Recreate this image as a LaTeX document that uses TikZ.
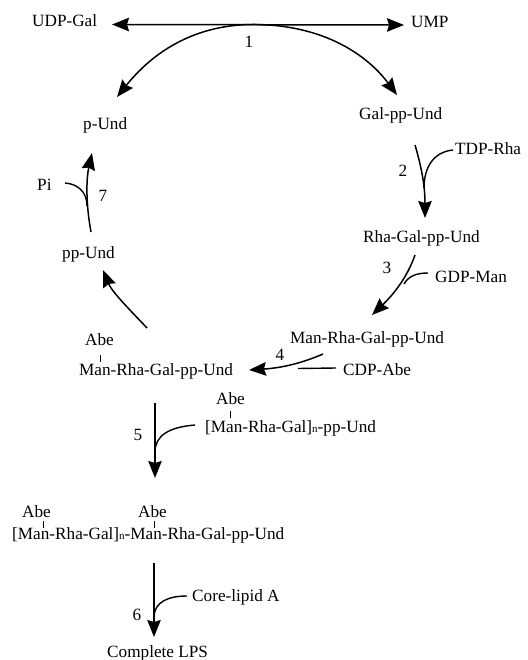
\documentclass[tikz,border=0pt]{standalone}
\usepackage{fontspec}
\setmainfont{Liberation Serif}
\usetikzlibrary{arrows.meta}
\newcommand{\smn}{{\fontsize{11}{12}\selectfont n}}
\tikzset{
  lbl/.style={inner sep=0pt, anchor=base west, font=\fontsize{17.2}{20}\selectfont},
  num/.style={inner sep=0pt, anchor=base, font=\fontsize{17.2}{20}\selectfont},
  tipshape/.style={},
  rxn/.style={line width=1.5pt, -{Stealth[length=17pt,width=13.5pt,inset=2pt]}},
  dbl/.style={line width=1.5pt, {Stealth[length=17pt,width=13.5pt,inset=2pt]}-{Stealth[length=17pt,width=13.5pt,inset=2pt]}},
  side/.style={line width=1.4pt},
  tickln/.style={line width=0.7pt}
}
\begin{document}
\begin{tikzpicture}[x=1pt,y=-1pt]
\useasboundingbox (0,0) rectangle (527,660);
% texts
\node[lbl] (udpgal) at (32,27) {UDP-Gal};
\node[lbl] (ump) at (411,28) {UMP};
\node[num] (n1) at (249,48) {1};
\node[lbl] (pund) at (83,130) {p-Und};
\node[lbl] (galpp) at (359,120) {Gal-pp-Und};
\node[lbl] (tdprha) at (455,155) {TDP-Rha};
\node[num] (n2) at (403,177) {2};
\node[lbl] (rhagal) at (363,242) {Rha-Gal-pp-Und};
\node[num] (n3) at (387,273) {3};
\node[lbl] (gdpman) at (435,282) {GDP-Man};
\node[lbl] (manrha) at (290,343) {Man-Rha-Gal-pp-Und};
\node[num] (n4) at (280,360) {4};
\node[lbl] (cdpabe) at (343,375) {CDP-Abe};
\node[lbl] (pi) at (37,190) {Pi};
\node[num] (n7) at (103,202) {7};
\node[lbl] (ppund) at (62,258) {pp-Und};
\node[lbl] (abea) at (85,345) {Abe};
\node[lbl] (abeman) at (79,375) {Man-Rha-Gal-pp-Und};
\node[lbl] (abeb) at (216,404) {Abe};
\node[lbl] (polyman) at (205,432) {[Man-Rha-Gal]\smn-pp-Und};
\node[num] (n5) at (138,440) {5};
\node[lbl] (abec) at (22,517) {Abe};
\node[lbl] (abed) at (138,517) {Abe};
\node[lbl] (longch) at (12,539) {[Man-Rha-Gal]\smn-Man-Rha-Gal-pp-Und};
\node[num] (n6) at (137,620) {6};
\node[lbl] (core) at (192,601) {Core-lipid A};
\node[lbl] (lps) at (107,657) {Complete LPS};
% ticks
\draw[tickln] (100,355) -- (100,362);
\draw[tickln] (230,411) -- (230,418);
\draw[tickln] (43,521) -- (43,528);
\draw[tickln] (154,521) -- (154,528);
% step 1
\coordinate (h1) at (112,24.5);
\coordinate (h2) at (404,25);
\coordinate (top) at (255,24.5);
\coordinate (t1l) at (117,97);
\coordinate (t1r) at (397,95);
\draw[dbl] (h1) -- (h2);
\draw[rxn] (top) .. controls (185,24) and (145,62) .. (t1l);
\draw[rxn] (top) .. controls (325,25) and (368,56) .. (t1r);
% step 2
\coordinate (s2a) at (415,145);
\coordinate (s2b) at (425,218);
\coordinate (s2c) at (453,150);
\draw[rxn] (s2a) .. controls (423,172) and (425,190) .. (s2b);
\draw[side] (s2c) .. controls (433,152) and (424,168) .. (424,188);
% step 3
\coordinate (s3a) at (415,255);
\coordinate (s3b) at (372,315);
\coordinate (s3c) at (428,273);
\draw[rxn] (s3a) .. controls (408,275) and (396,292) .. (s3b);
\draw[side] (s3c) .. controls (415,273) and (408,277) .. (404,284);
% step 4
\coordinate (s4a) at (323,354);
\coordinate (s4b) at (249,370);
\coordinate (s4c) at (336,368);
\draw[rxn] (s4a) .. controls (300,364) and (280,368) .. (s4b);
\draw[side] (s4c) -- (298,368.5);
% back arc to pp-Und
\coordinate (s8a) at (147,328);
\coordinate (s8b) at (103,270);
\draw[rxn] (s8a) .. controls (130,310) and (112,292) .. (s8b);
% step 7
\coordinate (s7a) at (91,232);
\coordinate (s7b) at (92,153);
\coordinate (s7c) at (65,183);
\draw[rxn] (s7a) .. controls (86,205) and (86,180) .. (s7b);
\draw[side] (s7c) .. controls (78,184) and (87,192) .. (87,206);
% step 5
\coordinate (s5a) at (155,403);
\coordinate (s5b) at (155,478);
\coordinate (s5c) at (195,425);
\draw[rxn] (s5a) -- (s5b);
\draw[side] (s5c) .. controls (170,427) and (155,435) .. (155,452);
% step 6
\coordinate (s6a) at (154,563);
\coordinate (s6b) at (154,637);
\coordinate (s6c) at (187,596);
\draw[rxn] (s6a) -- (s6b);
\draw[side] (s6c) .. controls (168,596) and (155,602) .. (154,616);
\end{tikzpicture}
\end{document}
